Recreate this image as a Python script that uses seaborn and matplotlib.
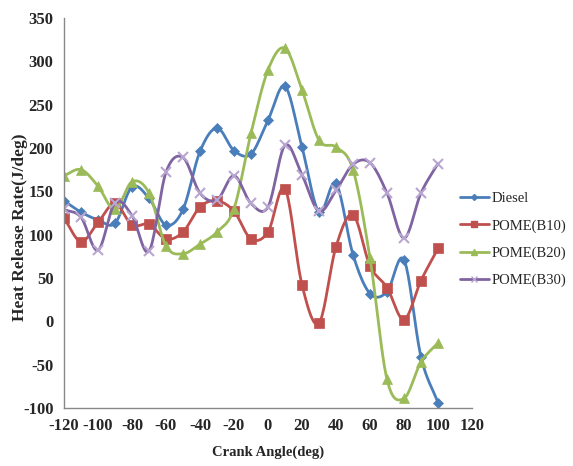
import numpy as np
import pandas as pd
import matplotlib
matplotlib.use("Agg")
import matplotlib.pyplot as plt
import seaborn as sns
from matplotlib.lines import Line2D

crank_angle = list(range(-120, 101, 10))
diesel = [139, 126, 117, 113, 155, 142, 111, 129, 196, 223, 197, 193, 232, 271, 201, 126, 159, 77, 32, 34, 71, -41, -94]
b10 = [119, 92, 114, 136, 111, 112, 95, 103, 132, 139, 127, 95, 103, 153, 42, -2, 86, 123, 64, 39, 2, 47, 84]
b20 = [168, 175, 156, 129, 161, 148, 87, 78, 89, 103, 130, 217, 290, 315, 267, 209, 201, 175, 73, -67, -89, -47, -25]
b30 = [129, 120, 82, 137, 122, 81, 172, 189, 148, 140, 168, 136, 132, 203, 169, 127, 151, 181, 183, 148, 96, 148, 182]
series_names = ["Diesel", "POME(B10)", "POME(B20)", "POME(B30)"]
x_ticks = list(range(-120, 121, 20))
y_ticks = list(range(-100, 351, 50))

colors = ["#4A7EBB", "#C0504D", "#9BBB59", "#8064A2"]
marker_colors = ["#4A7EBB", "#C0504D", "#9BBB59", "#B8A6D0"]
markers = ["D", "s", "^", "x"]
msizes = [5, 7, 7, 7]

sns.set_style("white")
plt.rcParams['font.family'] = ['Liberation Serif', 'DejaVu Serif']
plt.rcParams['axes.unicode_minus'] = False

fig = plt.figure(figsize=(5.73, 4.66), dpi=100)
ax = fig.add_axes([0.1117, 0.1245, 0.712, 0.837])

def smooth(xs, ys, n=20):
    xs = np.asarray(xs, float); ys = np.asarray(ys, float)
    px = np.concatenate([[2*xs[0]-xs[1]], xs, [2*xs[-1]-xs[-2]]])
    py = np.concatenate([[2*ys[0]-ys[1]], ys, [2*ys[-1]-ys[-2]]])
    ox, oy = [], []
    t = np.linspace(0, 1, n, endpoint=False)
    for i in range(1, len(px)-2):
        for arr, out in ((px, ox), (py, oy)):
            p0, p1, p2, p3 = arr[i-1], arr[i], arr[i+1], arr[i+2]
            out.extend(0.5*((2*p1) + (-p0+p2)*t + (2*p0-5*p1+4*p2-p3)*t**2 + (-p0+3*p1-3*p2+p3)*t**3))
    ox.append(xs[-1]); oy.append(ys[-1])
    return np.array(ox), np.array(oy)

handles = []
for name, vals, c, mc, m, ms in zip(series_names, [diesel, b10, b20, b30], colors, marker_colors, markers, msizes):
    sx, sy = smooth(crank_angle, vals)
    sns.lineplot(x=sx, y=sy, ax=ax, color=c, linewidth=2, sort=False, estimator=None)
    df = pd.DataFrame({"x": crank_angle, "y": vals})
    ax.plot(df["x"], df["y"], linestyle="none", marker=m, markersize=ms, color=mc,
            markeredgewidth=1.5 if m == "x" else 0.5, markeredgecolor=mc)
    handles.append(Line2D([0], [0], color=c, linewidth=2, marker=m, markersize=ms-2,
                          markerfacecolor=mc, markeredgecolor=mc))

ax.set_xlim(-120, 120)
ax.set_ylim(-100, 350)
ax.set_xticks(x_ticks)
ax.set_yticks(y_ticks)
ax.tick_params(axis="both", direction="out", length=4, width=1, color="#888888", labelsize=12)
for lbl in ax.get_xticklabels() + ax.get_yticklabels():
    lbl.set_fontweight("bold")
for s in ["top", "right"]:
    ax.spines[s].set_visible(False)
for s in ["left", "bottom"]:
    ax.spines[s].set_color("#888888")
    ax.spines[s].set_linewidth(1)
ax.set_xlabel("Crank Angle(deg)", fontsize=10.5, fontweight="bold", labelpad=8)
ax.set_ylabel("Heat Release Rate(J/deg)", fontsize=12.5, fontweight="bold")
ax.yaxis.set_label_coords(-0.088, 0.464)
ax.grid(False)

fig.legend(handles, series_names, loc="upper left", bbox_to_anchor=(0.795, 0.597),
           frameon=False, fontsize=10.5, handlelength=2.0, handletextpad=0.2,
           labelspacing=0.95, borderaxespad=0, borderpad=0.3)

fig.savefig("out.png", dpi=100)
